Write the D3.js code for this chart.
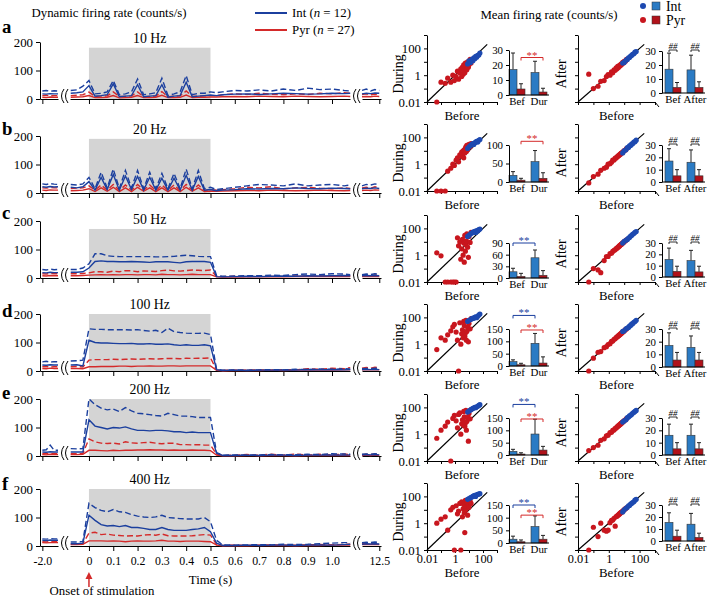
<!DOCTYPE html>
<html><head><meta charset="utf-8">
<script src="https://cdn.jsdelivr.net/npm/d3@7"></script>
<style>body{margin:0;background:#fff}</style>
</head><body><svg id="c" width="709" height="599"></svg>
<script>
// ---------------- DATA ----------------
const panelLetters = ["a","b","c","d","e","f"];
const freqLabels = ["10 Hz","20 Hz","50 Hz","100 Hz","200 Hz","400 Hz"];
const stimTop = [180,190,172,200,200,200];
const rateTicks = [0,100,200];
const timeTicksMain = [0,0.1,0.2,0.3,0.4,0.5,0.6,0.7,0.8,0.9,1.0];
const timeTickLabels = ["-2.0","0","0.1","0.2","0.3","0.4","0.5","0.6","0.7","0.8","0.9","1.0","12.5"];
const timePre = [-2.0,-1.95,-1.9,-1.85,-1.8];
const timeMain = [-0.075,-0.05,-0.025,0,0.025,0.05,0.075,0.1,0.125,0.15,0.175,0.2,0.225,0.25,0.275,0.3,0.325,0.35,0.375,0.4,0.425,0.45,0.475,0.5,0.525,0.55,0.6,0.65,0.7,0.75,0.8,0.85,0.9,0.95,1.0,1.05,1.075];
const timePost = [12.3,12.35,12.4,12.45,12.5];

// each series: 5 pre + 37 main + 5 post values (counts/s)
const aIntMean = [18,17,19,18,18, 20,22,25, 47,10,12,15,53,8,10,12,50,8,10,12,50,6,10,12,59,8,10,12,14, 12, 15,17,18,16,18,20,19,17,18,20,19, 20, 18,20,19,21,20];
const aIntUp   = [28,30,27,29,28, 30,32,45, 65,18,20,25,65,15,18,25,70,15,18,22,73,12,18,25,82,15,20,20,25, 22, 25,30,28,32,28,35,30,38,33,35,30, 28, 30,35,28,33,30];
const aPyrMean = [6,5,7,6,6, 6,7,8, 12,5,5,6,12,4,5,6,12,5,5,6,13,5,5,6,14,5,6,6,7, 7, 8,9,8,10,9,8,10,9,8,9,10, 9, 8,9,8,10,9];
const aPyrUp   = [12,13,11,12,12, 12,13,15, 24,9,10,11,25,9,9,11,25,8,9,10,26,8,10,11,28,9,10,11,12, 12, 15,18,16,20,17,15,18,16,20,18,22, 20, 16,18,15,17,16];

const bIntMean = [22,20,23,21,22, 20,18,22, 40,10,55,12,65,10,60,12,58,10,55,10,52,10,52,10,62,10,58,10,12, 8, 10,12,15,14,16,15,18,16,15,17,16, 15, 15,17,16,18,16];
const bIntUp   = [32,30,33,31,30, 30,28,32, 55,15,73,18,84,16,79,18,79,15,73,15,69,15,69,15,84,15,79,15,20, 12, 15,20,25,30,28,25,32,25,28,30,25, 28, 25,30,28,32,30];
const bPyrMean = [10,9,11,10,10, 8,9,10, 15,5,18,6,20,5,18,5,20,6,18,5,18,5,18,5,20,6,18,5,7, 6, 7,8,9,8,10,9,8,9,10,9,8, 9, 9,10,9,11,10];
const bPyrUp   = [18,17,19,18,18, 16,17,18, 25,10,28,10,30,9,28,10,30,10,28,9,28,9,28,9,30,10,28,9,12, 10, 12,15,20,18,22,15,18,20,17,15,18, 16, 18,20,17,22,18];

const cIntMean = [19,18,20,19,19, 20,20,22, 35,58,60,58,58,57,57,58,57,56,55,57,57,57,55,53,57,58,58,58,55, 5, 4,5,6,5,6,7,6,8,7,8,9, 8, 8,9,8,9,8];
const cIntUp   = [30,28,31,29,30, 30,30,35, 50,85,85,78,76,75,75,75,75,75,75,74,74,75,76,78,80,78,76,75,75, 8, 6,7,8,8,10,9,12,14,12,15,14, 12, 12,14,12,15,13];
const cPyrMean = [8,7,9,8,8, 8,8,9, 10,11,12,11,12,11,12,12,11,12,12,11,13,12,12,11,12,13,12,12,12, 4, 3,3,4,4,5,4,5,6,5,5,6, 5, 5,6,5,6,5];
const cPyrUp   = [15,14,16,15,15, 15,15,16, 18,22,22,20,24,22,26,25,22,25,24,23,26,28,25,24,26,28,27,26,28, 6, 5,6,5,7,6,8,7,6,8,7,9, 8, 9,10,8,11,9];

const dIntMean = [21,20,22,21,21, 21,22,18, 108,100,98,98,97,96,96,97,95,95,96,94,94,95,92,90,92,90,90,92,88, 5, 2,3,2,3,3,4,3,5,4,5,4, 5, 5,6,5,6,5];
const dIntUp   = [32,34,31,33,32, 35,36,38, 148,146,146,145,145,145,145,144,145,142,140,143,135,150,138,135,133,132,132,133,128, 6, 3,4,3,4,5,4,6,5,7,6,8, 7, 8,9,8,10,9];
const dPyrMean = [9,8,10,9,9, 9,9,8, 15,15,16,16,16,17,17,16,17,17,18,17,17,18,18,17,18,18,18,18,18, 2, 1,2,2,2,3,2,3,3,4,3,4, 4, 4,5,4,5,4];
const dPyrUp   = [15,16,14,15,15, 15,16,14, 38,40,40,40,41,40,41,42,41,42,43,42,43,44,44,43,45,44,45,45,46, 4, 2,3,3,4,3,5,4,8,6,10,8, 12, 10,12,10,13,11];

const eIntMean = [14,13,15,14,14, 14,14,14, 127,105,100,95,100,98,102,95,90,90,88,90,90,88,85,85,82,84,82,82,82, 10, 2,2,3,2,3,3,2,3,3,4,3, 4, 4,5,4,5,4];
const eIntUp   = [20,22,38,20,20, 26,25,26, 200,180,168,162,165,156,170,158,150,148,145,142,140,150,145,140,140,138,135,135,135, 12, 3,4,3,4,5,4,5,6,5,8,7, 6, 6,7,6,8,7];
const ePyrMean = [5,4,6,5,5, 5,5,6, 20,20,19,18,20,19,20,20,21,21,22,21,21,20,21,20,20,21,20,20,19, 3, 1,1,2,1,2,2,1,2,2,2,2, 2, 2,3,2,3,2];
const ePyrUp   = [8,9,8,9,8, 8,8,9, 60,50,45,44,45,42,50,46,45,47,48,45,43,45,45,40,40,39,40,38,38, 6, 2,3,5,3,6,3,7,3,6,4,7, 5, 5,6,5,7,6];

const fIntMean = [20,19,21,20,20, 8,8,10, 108,90,75,70,72,68,72,65,65,62,58,58,65,58,55,55,55,58,60,65,50, 10, 2,2,3,2,3,3,2,3,4,3,5, 6, 6,8,7,8,7];
const fIntUp   = [25,24,26,25,25, 14,14,16, 150,135,125,120,128,120,118,110,105,102,100,102,108,100,98,96,95,95,95,100,85, 20, 4,3,4,5,4,6,5,6,8,10,12, 12, 12,13,12,14,12];
const fPyrMean = [12,11,12,12,12, 5,5,6, 18,18,18,17,18,17,15,17,18,17,17,18,20,17,17,16,17,17,17,16,15, 3, 1,2,1,2,2,2,1,2,2,3,3, 3, 5,6,5,6,5];
const fPyrUp   = [15,14,16,15,15, 7,7,8, 45,48,40,42,38,37,35,36,35,38,40,38,42,36,35,35,35,36,38,40,38, 5, 2,3,2,3,4,3,3,4,5,4,6, 6, 8,9,8,10,8];

const intMeanSeries = [aIntMean,bIntMean,cIntMean,dIntMean,eIntMean,fIntMean];
const intUpSeries   = [aIntUp,bIntUp,cIntUp,dIntUp,eIntUp,fIntUp];
const pyrMeanSeries = [aPyrMean,bPyrMean,cPyrMean,dPyrMean,ePyrMean,fPyrMean];
const pyrUpSeries   = [aPyrUp,bPyrUp,cPyrUp,dPyrUp,ePyrUp,fPyrUp];

// scatter: firing rate before stimulation (shared cells), during & after per panel
const logTicks = [0.01,0.1,1,10,100,1000];
const intBefore = [8,10,13,16,19,22,26,30,35,42,50,60];
const pyrBefore = [0.05,0.1,0.2,0.3,0.5,0.7,0.9,1.2,1.5,1.8,2.2,2.6,3,3.4,3.8,4.2,4.6,5,5.5,6,6.5,7,8,9,10,12,14];
const intDuring = [
  [7,12,9,15,12,20,17,25,22,30,32,45],
  [15,20,25,30,35,30,40,45,50,45,60,70],
  [25,30,40,45,50,55,60,50,70,65,80,90],
  [50,60,70,80,90,85,100,110,95,120,150,180],
  [45,55,65,75,85,90,100,95,110,120,140,160],
  [60,70,80,90,100,110,120,100,130,140,150,160]];
const pyrDuring = [
  [0.01,0.3,0.25,0.6,0.3,1,0.4,0.8,2,0.5,1.5,3,0.8,4,1.2,6,2,1.5,8,3,5,2.5,10,4,6,15,8],
  [0.01,0.01,0.01,0.3,0.5,1,0.8,2,3,1.5,5,4,8,6,10,3,12,7,15,20,9,25,12,18,30,20,35],
  [1.5,0.9,0.01,0.01,0.01,0.01,0.01,0.01,20,5,10,0.5,3,15,1,8,0.3,30,2,6,12,40,4,0.7,25,9,50],
  [0.4,3,2,5,10,20,30,8,2,0.01,40,1,6,12,3,50,25,4,7,60,2,9,18,1.5,35,14,80],
  [0.5,2,4,8,0.01,15,25,10,3,30,40,1,6,12,5,50,20,4,7,60,2,9,18,0.3,35,14,70],
  [1,2,3,0.3,10,15,0.01,20,5,8,30,0.01,40,3,12,25,6,0.2,50,10,18,35,4,20,15,45,30]];
const intAfter = [
  [8,9,13,15,20,21,27,29,36,40,52,58],
  [7,10,12,17,18,23,25,31,34,44,48,62],
  [8,11,13,15,19,21,27,29,36,41,51,58],
  [9,10,14,16,18,22,25,31,34,43,49,61],
  [8,10,12,17,19,23,26,30,36,42,50,59],
  [7,10,13,15,20,21,27,29,35,40,52,60]];
const pyrAfter = [
  [1.2,0.1,0.15,0.35,0.4,0.8,1.1,1,1.8,1.5,2.5,2.3,3.5,3,4.5,3.8,5,4.6,6,5.5,7,6.5,9,8,11,11,15],
  [0.04,0.12,0.18,0.35,0.5,0.6,1,1.1,1.4,2,2.1,2.8,2.9,3.6,3.7,4.4,4.5,5.2,5.4,6.1,6.8,7.1,7.7,9.2,10.5,11.5,14.5],
  [0.01,0.1,0.08,0.05,0.4,0.8,0.8,1.3,1.4,1.9,2.3,2.5,3.1,3.3,3.9,4.1,4.7,4.9,5.7,5.9,6.6,6.9,8.2,8.8,10.3,11.8,14.2],
  [0.01,0.09,0.25,0.28,0.55,0.65,0.95,1.1,1.6,1.7,2.3,2.5,3.1,3.5,3.7,4.3,4.5,5.1,5.4,6.2,6.4,7.2,7.8,9.2,9.8,12.3,13.7],
  [0.06,0.1,0.15,0.35,0.45,0.75,0.85,1.3,1.4,1.9,2.1,2.7,2.9,3.5,3.7,4.3,4.5,5.1,5.4,6.1,6.6,6.9,8.2,8.8,10.2,11.8,14.3],
  [0.01,0.5,0.1,1,0.3,0.25,0.3,1.1,1.6,1.7,2.3,0.6,3.1,3.3,3.9,4.1,4.7,4.9,5.6,6.1,6.4,7.1,8.1,8.9,10.2,12.2,13.8]];

// bar insets: [Int Bef, Pyr Bef, Int Dur/After, Pyr Dur/After]
const durMeans = [[17,4,15,2],[18,5,55,10],[16,4,52,7],[18,5,92,12],[15,4,85,20],[15,5,65,15]];
const durErrs  = [[11,3.5,7.5,2.5],[10,5,30,15],[9,8,20,12],[7,6,40,25],[8,5,60,15],[12,7,42,15]];
const durTicks = [[0,10,20,30],[0,50,100],[0,30,60,90],[0,50,100,150],[0,50,100,150],[0,50,100,150]];
const durSigInt = [null,null,90,205,205,150];
const durSigPyr = [25,110,null,146,146,110];
const aftMeans = [[17,4,16.5,4],[17,5,16,5],[15.5,5,14.5,4.5],[17,5.5,15.5,5.5],[16,5,16,5],[15.5,4,14,3]];
const aftErrs  = [[11.5,3.5,10.5,4],[10,5,10,5],[10,4.5,9,5],[10,6,9,6],[9,5,9,5],[8,5,9,3.5]];
const aftTicks = [0,10,20,30];
const durGroups = ["Bef","Dur"];
const aftGroups = ["Bef","After"];

// ---------------- FONT ----------------
const TITLE = "Dynamic firing rate (counts/s)";
let FONT = "serif", K = 1;
(function(){
  const c = document.createElement("canvas").getContext("2d");
  c.font = "13px monospace"; const mono = c.measureText(TITLE).width;
  const cands = ["Liberation Serif","Times New Roman","Tinos","Nimbus Roman","DejaVu Serif"];
  for(const f of cands){
    c.font = `13px "${f}", monospace`;
    const w = c.measureText(TITLE).width;
    if(Math.abs(w-mono)>0.5){ FONT = `"${f}", serif`; K = 155/w; return; }
  }
})();
const fs = n => (n*K).toFixed(2);

// ---------------- LAYOUT ----------------
const BL="#1b3f9e", RL="#d42a2a", BD="#1d49b0", RD="#c8161e", BB="#2b7bc4", RB="#b0121a";
const svg = d3.select("#c").attr("font-family",FONT);
const baseY = [99,193,278,371,456,546];
const letterY = [33,135,219,317,399,490];
const plotH = 57;
const scBottom = [102,191,282,371,461,550];
const durY0 = [95,182,278,366,455,543], durYT = [50,145,243,329,418,505];
const aftY0 = [93,182,277,367,455,541], aftYT = [51,145,243,329,418,505];

const xPre = d3.scaleLinear().domain([-2.03,-1.8]).range([40,58]);
const xMain = d3.scaleLinear().domain([-0.078,1.074]).range([70,350]);
const xPost = d3.scaleLinear().domain([12.3,12.52]).range([362,381]);

function styleAxis(sel,size){
  sel.attr("font-family",FONT);
  sel.selectAll("text").attr("font-size",fs(size)).attr("font-family",FONT).attr("fill","#000");
  sel.selectAll("line,path").attr("stroke","#000");
}

// titles & legends
svg.append("text").attr("x",109).attr("y",17).attr("text-anchor","middle").attr("font-size",fs(13)).text(TITLE);
[["Int","12",BL,13],["Pyr","27",RL,30]].forEach(([nm,n,col,y])=>{
  svg.append("line").attr("x1",255).attr("x2",287).attr("y1",y).attr("y2",y).attr("stroke",col).attr("stroke-width",2);
  const t = svg.append("text").attr("x",292).attr("y",y+4).attr("font-size",fs(13));
  t.append("tspan").text(nm+" (");
  t.append("tspan").attr("font-style","italic").text("n");
  t.append("tspan").text(" = "+n+")");
});
svg.append("text").attr("x",549).attr("y",19).attr("text-anchor","middle").attr("font-size",fs(13)).text("Mean firing rate (counts/s)");
[["Int",BD,BB,6],["Pyr",RD,RB,20]].forEach(([nm,dc,bc,y])=>{
  svg.append("circle").attr("cx",643).attr("cy",y).attr("r",3).attr("fill",dc);
  svg.append("rect").attr("x",652).attr("y",y-4).attr("width",8).attr("height",8).attr("fill",bc).attr("stroke","#333").attr("stroke-width",0.5);
  svg.append("text").attr("x",666).attr("y",y+5).attr("font-size",fs(14)).text(nm);
});

function breakMark(g,x,y){
  [0,4].forEach(dx=>{
    g.append("path").attr("d",`M${x+dx+2},${y-7} Q${x+dx-3},${y} ${x+dx+2},${y+7}`)
     .attr("fill","none").attr("stroke","#000").attr("stroke-width",1);
  });
}

for(let p=0;p<6;p++){
  const g = svg.append("g");
  const y0 = baseY[p];
  const y = d3.scaleLinear().domain([0,200]).range([y0,y0-plotH]);
  g.append("text").attr("x",2).attr("y",letterY[p]).attr("font-size",fs(19)).attr("font-weight","bold").text(panelLetters[p]);
  g.append("rect").attr("x",xMain(0)).attr("width",xMain(0.5)-xMain(0))
    .attr("y",y(stimTop[p])).attr("height",y(0)-y(stimTop[p])).attr("fill","#d4d4d4");
  g.append("text").attr("x",xMain(0.25)).attr("y",y(stimTop[p])-5).attr("text-anchor","middle").attr("font-size",fs(14)).text(freqLabels[p]);
  const ya = g.append("g").attr("transform",`translate(40,0)`).call(d3.axisLeft(y).tickValues(rateTicks).tickSize(4).tickSizeOuter(0));
  styleAxis(ya,13);
  const lastP = p===5;
  const segs = [[xPre,[-2.0],["-2.0"]],[xMain,timeTicksMain,timeTickLabels.slice(1,12)],[xPost,[12.5],["12.5"]]];
  segs.forEach(([sc,tv,tl])=>{
    const ax = g.append("g").attr("transform",`translate(0,${y0})`)
      .call(d3.axisBottom(sc).tickValues(tv).tickSize(5).tickSizeOuter(0).tickFormat((d,i)=>lastP?tl[i]:""));
    styleAxis(ax,12);
    ax.selectAll("text").attr("dy","0.9em");
  });
  breakMark(g,62,y0-3);
  breakMark(g,354,y0-3);
  const series = [[pyrMeanSeries[p],RL,null],[pyrUpSeries[p],RL,"6,3"],[intMeanSeries[p],BL,null],[intUpSeries[p],BL,"6,3"]];
  series.forEach(([vals,col,dash])=>{
    const parts = [[timePre,vals.slice(0,5),xPre],[timeMain,vals.slice(5,42),xMain],[timePost,vals.slice(42,47),xPost]];
    parts.forEach(([ts,vs,sc])=>{
      const line = d3.line().x((d,i)=>sc(ts[i])).y(d=>y(d));
      g.append("path").attr("d",line(vs)).attr("fill","none").attr("stroke",col).attr("stroke-width",1.4)
        .attr("stroke-dasharray",dash);
    });
  });

  // ---------- scatter plots ----------
  const sb = scBottom[p];
  const ys = d3.scaleLog().domain([0.01,1000]).range([sb,sb-67]);
  const xd = d3.scaleLog().domain([0.01,1000]).range([427,497]);
  const xa = d3.scaleLog().domain([0.01,1000]).range([578,655]);
  const lbl = d => d===0.01?"0.01":(d===1||d===100)?String(d):"";
  [[xd,intDuring[p],pyrDuring[p],"During",403,true],[xa,intAfter[p],pyrAfter[p],"After",566,false]].forEach(([xs,iv,pv,lab,lx,showY])=>{
    const sg = g.append("g");
    const yax = sg.append("g").attr("transform",`translate(${xs.range()[0]},0)`)
      .call(d3.axisLeft(ys).tickValues(logTicks).tickSize(3).tickSizeOuter(0).tickFormat(d=>showY?lbl(d):""));
    styleAxis(yax,13);
    const xax = sg.append("g").attr("transform",`translate(0,${sb})`)
      .call(d3.axisBottom(xs).tickValues(logTicks).tickSize(3).tickPadding(1).tickSizeOuter(0).tickFormat(d=>lastP?lbl(d):""));
    styleAxis(xax,12.5);
    if(!showY){
      sg.append("line").attr("x1",xs(1000)).attr("y1",sb).attr("x2",xs(1000)+4).attr("y2",sb+5).attr("stroke","#000");
    }
    sg.append("line").attr("x1",xs(0.01)).attr("y1",ys(0.01)).attr("x2",xs(200)).attr("y2",ys(200)).attr("stroke","#000").attr("stroke-width",1.2);
    sg.append("text").attr("transform",`translate(${lx},${sb-28}) rotate(-90)`).attr("text-anchor","middle").attr("font-size",fs(14)).text(lab);
    sg.append("text").attr("x",(xs.range()[0]+xs.range()[1])/2).attr("y",sb+(lastP?27:18)).attr("text-anchor","middle").attr("font-size",fs(13)).text("Before");
    pv.forEach((v,i)=>sg.append("circle").attr("cx",xs(pyrBefore[i])).attr("cy",ys(Math.max(v,0.01))).attr("r",2.6).attr("fill",RD));
    iv.forEach((v,i)=>sg.append("circle").attr("cx",xs(intBefore[i])).attr("cy",ys(v)).attr("r",2.6).attr("fill",BD));
  });

  // ---------- bar insets ----------
  const insets = [
    {ax:509, c:[517,539], y0:durY0[p], yT:durYT[p], ticks:durTicks[p], m:durMeans[p], e:durErrs[p], groups:durGroups, sig:true},
    {ax:662, c:[673,695], y0:aftY0[p], yT:aftYT[p], ticks:aftTicks, m:aftMeans[p], e:aftErrs[p], groups:aftGroups, sig:false}];
  insets.forEach(ins=>{
    const ig = g.append("g");
    const tmax = ins.ticks[ins.ticks.length-1];
    const yb = d3.scaleLinear().domain([0,tmax]).range([ins.y0,ins.yT]);
    const bw = 8;
    const xs = [ins.c[0]-bw, ins.c[0], ins.c[1]-bw, ins.c[1]];
    ins.m.forEach((v,i)=>{
      const col = i%2===0?BB:RB;
      const cx = xs[i]+bw/2;
      ig.append("line").attr("x1",cx).attr("x2",cx).attr("y1",yb(v)).attr("y2",yb(v+ins.e[i])).attr("stroke","#222").attr("stroke-width",1);
      ig.append("line").attr("x1",cx-2).attr("x2",cx+2).attr("y1",yb(v+ins.e[i])).attr("y2",yb(v+ins.e[i])).attr("stroke","#222").attr("stroke-width",1);
      ig.append("rect").attr("x",xs[i]).attr("width",bw).attr("y",yb(v)).attr("height",ins.y0-yb(v)).attr("fill",col).attr("stroke","#333").attr("stroke-width",0.6);
    });
    const a = ig.append("g").attr("transform",`translate(${ins.ax},0)`).call(d3.axisLeft(yb).tickValues(ins.ticks).tickSize(3).tickSizeOuter(0));
    styleAxis(a,11);
    ig.append("line").attr("x1",ins.ax).attr("x2",ins.c[1]+bw+2).attr("y1",ins.y0).attr("y2",ins.y0).attr("stroke","#000");
    ins.groups.forEach((gl,i)=>ig.append("text").attr("x",ins.c[i]).attr("y",ins.y0+10).attr("text-anchor","middle").attr("font-size",fs(11)).text(gl));
    if(ins.sig){
      [[durSigInt[p],0,BL],[durSigPyr[p],1,RL]].forEach(([lev,k,col])=>{
        if(lev===null) return;
        const yy = yb(lev);
        const x1 = xs[k]+bw/2, x2 = xs[k+2]+bw/2;
        ig.append("path").attr("d",`M${x1},${yy+3}V${yy}H${x2}V${yy+3}`).attr("fill","none").attr("stroke",col).attr("stroke-width",1);
        ig.append("text").attr("x",(x1+x2)/2).attr("y",yy+1).attr("text-anchor","middle").attr("font-size",fs(11)).attr("fill",col).text("**");
      });
    } else {
      [0,1].forEach(k=>{
        const yy = ins.yT-1;
        const x1 = xs[2*k]+bw/2, x2 = xs[2*k+1]+bw/2;
        ig.append("path").attr("d",`M${x1},${yy+2}V${yy}H${x2}V${yy+2}`).attr("fill","none").attr("stroke","#000").attr("stroke-width",0.8);
        ig.append("text").attr("x",(x1+x2)/2).attr("y",yy-1).attr("text-anchor","middle").attr("font-size",fs(9)).attr("font-style","italic").text("##");
      });
    }
  });
}

// bottom annotations
svg.append("text").attr("x",xMain(0.5)).attr("y",584).attr("text-anchor","middle").attr("font-size",fs(13)).text("Time (s)");
svg.append("path").attr("d",`M${xMain(0)},587 V578`).attr("stroke",RL).attr("stroke-width",1.5);
svg.append("path").attr("d",`M${xMain(0)-3.5},579 L${xMain(0)},572 L${xMain(0)+3.5},579 Z`).attr("fill",RL);
svg.append("text").attr("x",102).attr("y",595).attr("text-anchor","middle").attr("font-size",fs(13)).text("Onset of stimulation");
</script></body></html>
